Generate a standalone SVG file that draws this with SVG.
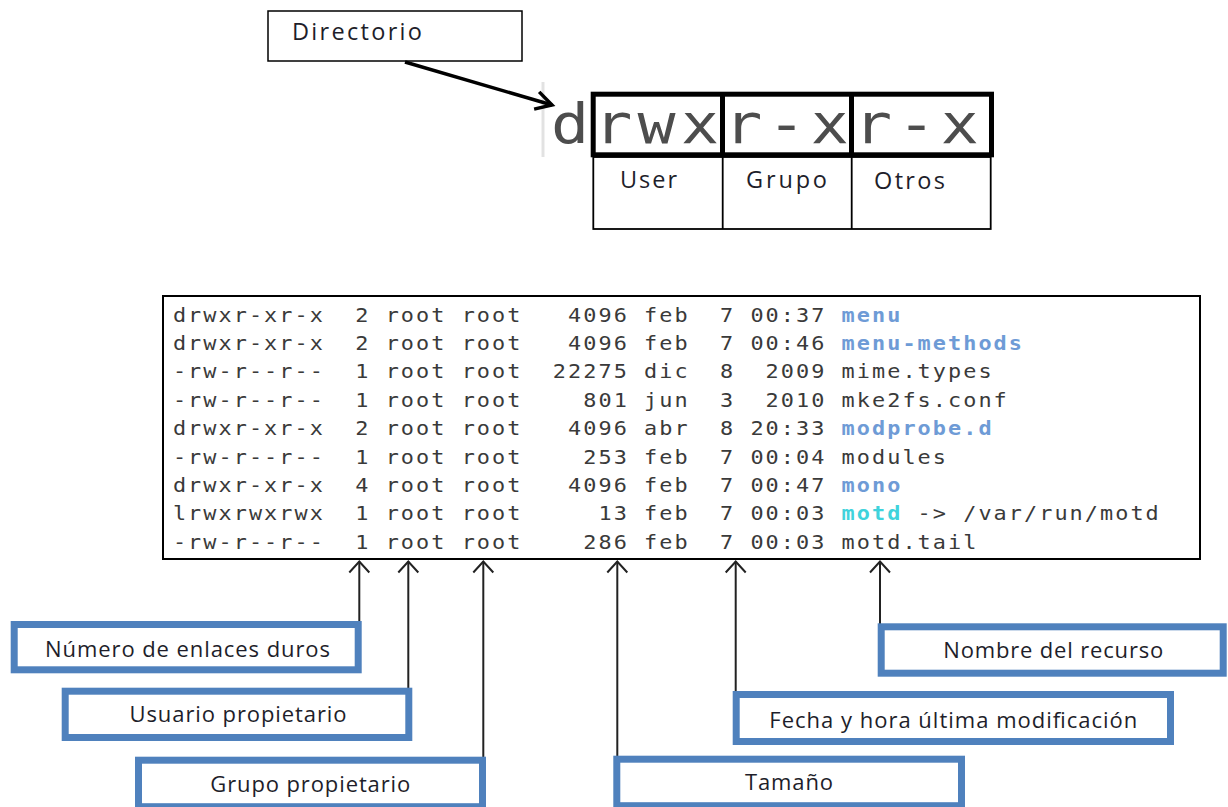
<svg xmlns="http://www.w3.org/2000/svg" width="1228" height="807" viewBox="0 0 1228 807">
<defs>
<style>
.lbl{font-family:"Open Sans","Liberation Sans",sans-serif;font-size:22px;fill:#1e1e2a}
.sm{font-family:"Open Sans","Liberation Sans",sans-serif;font-size:23.5px;fill:#1e1e2a}
.bluebox{fill:#fff;stroke:#4f81bd;stroke-width:7}
.thin{fill:none;stroke:#000;stroke-width:1.8}
.thick{fill:none;stroke:#000;stroke-width:5}
.mono{font-family:"DejaVu Sans Mono","Liberation Mono",monospace;font-size:19px;letter-spacing:1.78px;fill:#3a3a3a;white-space:pre}
.dir{font-weight:bold;fill:#6e9bd6}
.lnk{font-weight:bold;fill:#3fd3dc}
.conn{stroke:#222;stroke-width:2;fill:none}
</style>
<marker id="up" viewBox="0 0 14 22" refX="12" refY="11" markerWidth="14" markerHeight="22" markerUnits="userSpaceOnUse" orient="auto" overflow="visible">
<path d="M1,1 L12,11 L1,21" fill="none" stroke="#222" stroke-width="2"/>
</marker>
<marker id="big" viewBox="-2 -12 20 24" refX="16" refY="0" markerWidth="20" markerHeight="24" markerUnits="userSpaceOnUse" orient="auto" overflow="visible">
<path d="M0,-9 L16,0 L0,9" fill="none" stroke="#000" stroke-width="3.5"/>
</marker>
</defs>
<rect width="1228" height="807" fill="#fff"/>

<g id="directorio">
<rect x="268" y="11" width="254" height="50" fill="#fff" stroke="#000" stroke-width="1.5"/>
<text class="sm" x="292" y="40" textLength="130" lengthAdjust="spacing">Directorio</text>
</g>

<g id="permisos">
<line x1="543" y1="82" x2="543" y2="157" stroke="#e2e2e2" stroke-width="3"/>
<text transform="translate(551,143) scale(1.15,1)" font-family="DejaVu Sans Mono, Liberation Mono, monospace" font-size="55" letter-spacing="4.55" fill="#4d4d4d">drwxr-xr-x</text>
<rect class="thick" x="593.2" y="94.2" width="398.3" height="60.6"/>
<line class="thick" x1="722.5" y1="94" x2="722.5" y2="155"/>
<line class="thick" x1="851.5" y1="94" x2="851.5" y2="155"/>
</g>

<g id="tabla-permisos">
<rect class="thin" x="593.3" y="157" width="397.4" height="72"/>
<line class="thin" x1="722.7" y1="157" x2="722.7" y2="229"/>
<line class="thin" x1="851.7" y1="157" x2="851.7" y2="229"/>
<text class="sm" x="620" y="188" textLength="57" lengthAdjust="spacing">User</text>
<text class="sm" x="746" y="188" textLength="81" lengthAdjust="spacing">Grupo</text>
<text class="sm" x="874" y="189" textLength="71" lengthAdjust="spacing">Otros</text>
</g>

<g id="listado">
<rect x="163" y="296" width="1037" height="263" fill="#fff" stroke="#000" stroke-width="2"/>
<g transform="translate(172.9,0) scale(1.15,1)">
<text class="mono" x="0" y="321.7" xml:space="preserve">drwxr-xr-x  2 root root   4096 feb  7 00:37 <tspan class="dir">menu</tspan></text>
<text class="mono" x="0" y="350.1" xml:space="preserve">drwxr-xr-x  2 root root   4096 feb  7 00:46 <tspan class="dir">menu-methods</tspan></text>
<text class="mono" x="0" y="378.5" xml:space="preserve">-rw-r--r--  1 root root  22275 dic  8  2009 mime.types</text>
<text class="mono" x="0" y="406.9" xml:space="preserve">-rw-r--r--  1 root root    801 jun  3  2010 mke2fs.conf</text>
<text class="mono" x="0" y="435.3" xml:space="preserve">drwxr-xr-x  2 root root   4096 abr  8 20:33 <tspan class="dir">modprobe.d</tspan></text>
<text class="mono" x="0" y="463.7" xml:space="preserve">-rw-r--r--  1 root root    253 feb  7 00:04 modules</text>
<text class="mono" x="0" y="492.1" xml:space="preserve">drwxr-xr-x  4 root root   4096 feb  7 00:47 <tspan class="dir">mono</tspan></text>
<text class="mono" x="0" y="520.5" xml:space="preserve">lrwxrwxrwx  1 root root     13 feb  7 00:03 <tspan class="lnk">motd</tspan> -&gt; /var/run/motd</text>
<text class="mono" x="0" y="548.9" xml:space="preserve">-rw-r--r--  1 root root    286 feb  7 00:03 motd.tail</text>
</g>
</g>

<g id="conectores">
<line x1="405" y1="62" x2="552" y2="105" stroke="#000" stroke-width="3.5" marker-end="url(#big)"/>
<line class="conn" x1="359.3" y1="622" x2="359.3" y2="561.5" marker-end="url(#up)"/>
<line class="conn" x1="408.3" y1="689" x2="408.3" y2="561.5" marker-end="url(#up)"/>
<line class="conn" x1="483.3" y1="758" x2="483.3" y2="561.5" marker-end="url(#up)"/>
<line class="conn" x1="617.3" y1="757" x2="617.3" y2="561.5" marker-end="url(#up)"/>
<line class="conn" x1="735.7" y1="692" x2="735.7" y2="561.5" marker-end="url(#up)"/>
<line class="conn" x1="880" y1="624.5" x2="880" y2="561.5" marker-end="url(#up)"/>
</g>

<g id="enlaces">
<rect class="bluebox" x="14.2" y="624.5" width="344" height="45.3"/>
<text class="lbl" x="187.5" y="657.3" text-anchor="middle" textLength="285" lengthAdjust="spacing">Número de enlaces duros</text>
</g>
<g id="usuario">
<rect class="bluebox" x="65.2" y="691.2" width="343.6" height="46.3"/>
<text class="lbl" x="238" y="722.3" text-anchor="middle" textLength="217" lengthAdjust="spacing">Usuario propietario</text>
</g>
<g id="grupo">
<rect class="bluebox" x="138.5" y="760.2" width="344" height="46.5"/>
<text class="lbl" x="310.3" y="791.7" text-anchor="middle" textLength="200" lengthAdjust="spacing">Grupo propietario</text>
</g>
<g id="tamano">
<rect class="bluebox" x="616.8" y="759.2" width="344.7" height="46.5"/>
<text class="lbl" x="789" y="790" text-anchor="middle" textLength="88" lengthAdjust="spacing">Tamaño</text>
</g>
<g id="fecha">
<rect class="bluebox" x="736.2" y="694.5" width="434.3" height="47"/>
<text class="lbl" x="953.3" y="728.3" text-anchor="middle" textLength="368" lengthAdjust="spacing">Fecha y hora última modificación</text>
</g>
<g id="nombre">
<rect class="bluebox" x="881.2" y="626.8" width="342" height="46.4"/>
<text class="lbl" x="1053.3" y="658.3" text-anchor="middle" textLength="220" lengthAdjust="spacing">Nombre del recurso</text>
</g>
</svg>
